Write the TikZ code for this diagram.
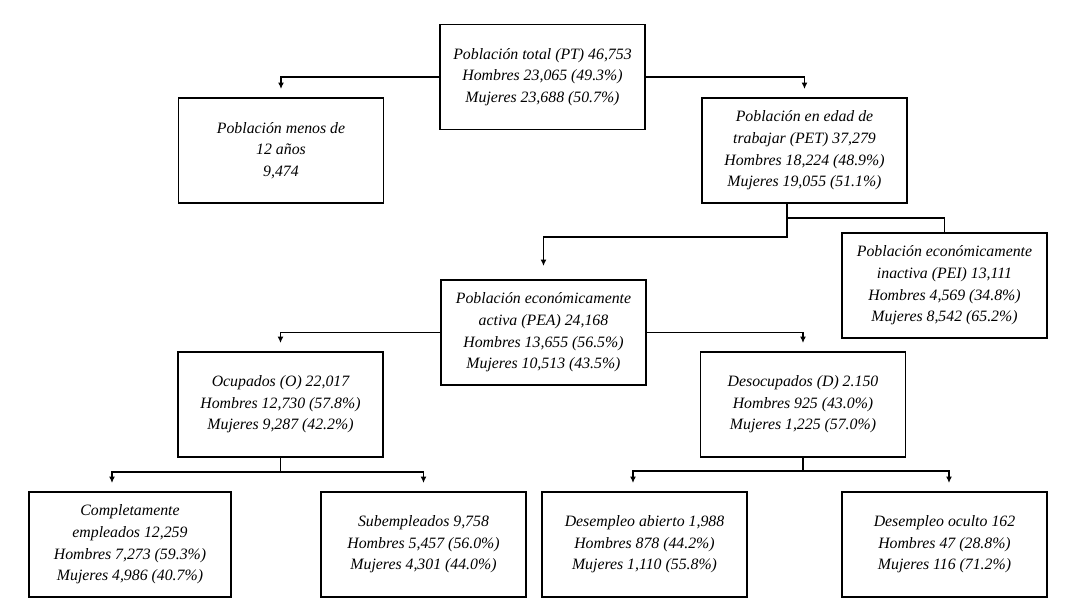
\documentclass[tikz,border=0pt]{standalone}
\usepackage{fontspec}
\setmainfont{Liberation Serif}
\usetikzlibrary{arrows.meta}

\begin{document}
\begin{tikzpicture}[
    box/.style={draw,line width=1.1pt,minimum width=4.1cm,minimum height=2.1cm,
      align=center,inner sep=2pt,font=\fontsize{9}{12.3}\selectfont\itshape},
    link/.style={line width=1pt},
    arrowlink/.style={link,-{Latex[length=1.3mm,width=1.2mm]},shorten >=0.16cm}]
  \useasboundingbox (0,0) rectangle (21.64,12.22);
  \node[box] (pt) at (10.85,10.68) {Población total (PT) 46,753\\Hombres 23,065 (49.3\%)\\Mujeres 23,688 (50.7\%)};
  \node[box] (menos) at (5.62,9.21) {Población menos de\\12 años\\9,474};
  \node[box] (pet) at (16.09,9.21) {Población en edad de\\trabajar (PET) 37,279\\Hombres 18,224 (48.9\%)\\Mujeres 19,055 (51.1\%)};
  \node[box] (pei) at (18.89,6.51) {Población económicamente\\inactiva (PEI) 13,111\\Hombres 4,569 (34.8\%)\\Mujeres 8,542 (65.2\%)};
  \node[box] (pea) at (10.87,5.57) {Población económicamente\\activa (PEA) 24,168\\Hombres 13,655 (56.5\%)\\Mujeres 10,513 (43.5\%)};
  \node[box] (ocu) at (5.61,4.13) {Ocupados (O) 22,017\\Hombres 12,730 (57.8\%)\\Mujeres 9,287 (42.2\%)};
  \node[box] (deso) at (16.06,4.13) {Desocupados (D) 2.150\\Hombres 925 (43.0\%)\\Mujeres 1,225 (57.0\%)};
  \node[box,minimum width=4.04cm] (comp) at (2.60,1.33) {Completamente\\empleados 12,259\\Hombres 7,273 (59.3\%)\\Mujeres 4,986 (40.7\%)};
  \node[box] (sub) at (8.47,1.33) {Subempleados 9,758\\Hombres 5,457 (56.0\%)\\Mujeres 4,301 (44.0\%)};
  \node[box] (abi) at (12.89,1.33) {Desempleo abierto 1,988\\Hombres 878 (44.2\%)\\Mujeres 1,110 (55.8\%)};
  \node[box] (ocul) at (18.89,1.33) {Desempleo oculto 162\\Hombres 47 (28.8\%)\\Mujeres 116 (71.2\%)};

  \draw[arrowlink] (pt.west) -| (menos.north);
  \draw[arrowlink] (pt.east) -| (pet.north);
  \coordinate (petlow) at (15.74,7.48);
  \coordinate (pethigh) at (15.74,7.86);
  \draw[arrowlink,shorten >=0.26cm] (petlow |- pet.south) -- (petlow) -| (pea.north);
  \draw[link] (pethigh) -| (pei.north);
  \draw[arrowlink] (pea.west) -| (ocu.north);
  \draw[arrowlink] (pea.east) -| (deso.north);
  \coordinate (ocujoin) at (5.61,2.78);
  \draw[link] (ocu.south) -- (ocujoin);
  \draw[arrowlink] (ocujoin) -| ([xshift=-0.36cm]comp.north);
  \draw[arrowlink] (ocujoin) -| (sub.north);
  \coordinate (desojoin) at (16.06,2.8);
  \draw[link] (deso.south) -- (desojoin);
  \draw[arrowlink] (desojoin) -| ([xshift=-0.23cm]abi.north);
  \draw[arrowlink] (desojoin) -| ([xshift=0.09cm]ocul.north);
\end{tikzpicture}
\end{document}
